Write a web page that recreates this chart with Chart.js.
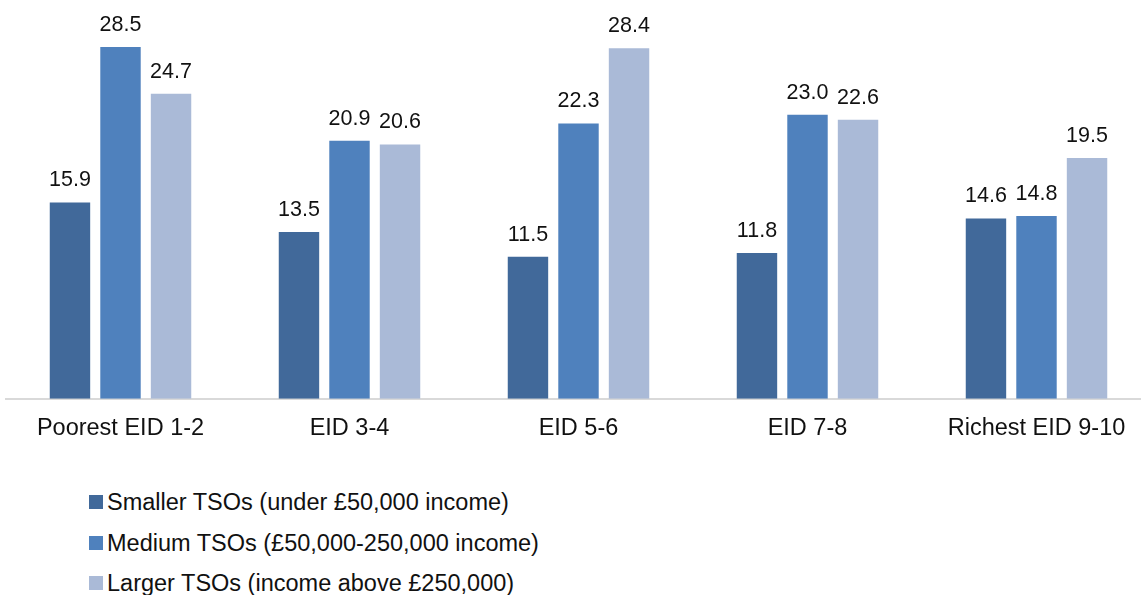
<!DOCTYPE html>
<html>
<head>
<meta charset="utf-8">
<script src="https://cdn.jsdelivr.net/npm/chart.js@4"></script>
<style>
  html, body { margin: 0; padding: 0; background: #fff; overflow: hidden; }
  #wrap { position: relative; width: 1152px; height: 595px; }
  #legend { position: absolute; left: 89px; top: 0; font-family: "Liberation Sans", Arial, sans-serif; font-size: 23.5px; color: #111; }
  .item { position: absolute; left: 0; white-space: nowrap; display: flex; align-items: center; }
  .box { width: 14px; height: 14px; margin-right: 4px; }
</style>
</head>
<body>
<div id="wrap">
  <canvas id="myChart" width="1152" height="460"></canvas>
  <div id="legend"></div>
</div>
<script>
const categories = ['Poorest EID 1-2', 'EID 3-4', 'EID 5-6', 'EID 7-8', 'Richest EID 9-10'];
const smaller = [15.9, 13.5, 11.5, 11.8, 14.6];
const medium = [28.5, 20.9, 22.3, 23.0, 14.8];
const larger = [24.7, 20.6, 28.4, 22.6, 19.5];
const seriesNames = [
  'Smaller TSOs (under \u00a350,000 income)',
  'Medium TSOs (\u00a350,000-250,000 income)',
  'Larger TSOs (income above \u00a3250,000)'
];
const colours = ['rgb(65,105,154)', 'rgb(79,129,189)', 'rgb(170,186,215)'];

// value labels above each bar
const barValues = {
  id: 'barValues',
  afterDatasetsDraw(chart) {
    const c = chart.ctx;
    c.save();
    c.font = '21.5px "Liberation Sans", Arial, sans-serif';
    c.fillStyle = '#111';
    c.textAlign = 'center';
    c.textBaseline = 'middle';
    chart.data.datasets.forEach((ds, i) => {
      chart.getDatasetMeta(i).data.forEach((bar, j) => {
        c.fillText(ds.data[j].toFixed(1), bar.x, bar.y - 22);
      });
    });
    c.restore();
  }
};

const ctx = document.getElementById('myChart');
const chart = new Chart(ctx, {
  type: 'bar',
  data: {
    labels: categories,
    datasets: [smaller, medium, larger].map((d, i) => ({
      label: seriesNames[i],
      data: d,
      backgroundColor: colours[i],
      borderWidth: 0,
      categoryPercentage: 0.662,
      barPercentage: 0.8
    }))
  },
  options: {
    responsive: false,
    animation: false,
    events: [],
    layout: { padding: { left: 6, right: 1, top: 0, bottom: 1 } },
    plugins: { legend: { display: false }, tooltip: { enabled: false } },
    scales: {
      x: {
        grid: { display: false, drawTicks: false },
        border: { display: true, color: '#d9d9d9', width: 2 },
        ticks: {
          padding: 16,
          color: '#111',
          font: { family: '"Liberation Sans", Arial, sans-serif', size: 23.5 }
        }
      },
      y: { display: false, min: 0, max: 32.3 }
    }
  },
  plugins: [barValues]
});

// legend stacked under the chart
const legend = document.getElementById('legend');
const rowCentres = [502, 543, 583];
seriesNames.forEach((name, i) => {
  const item = document.createElement('div');
  item.className = 'item';
  item.style.top = (rowCentres[i] - 14) + 'px';
  item.style.height = '28px';
  item.innerHTML = '<span class="box" style="background:' + colours[i] + '"></span><span>' + name + '</span>';
  legend.appendChild(item);
});
</script>
</body>
</html>
